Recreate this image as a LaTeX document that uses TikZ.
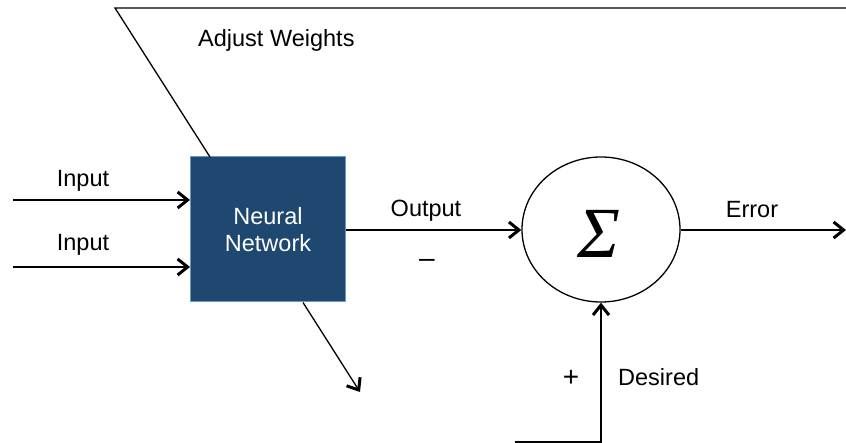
\documentclass[tikz,border=0pt]{standalone}
\usepackage{fontspec}
\setmainfont{Liberation Sans}
\newfontfamily\sumfont{Liberation Serif}
\usetikzlibrary{arrows.meta,shapes.geometric}
\definecolor{nnblue}{RGB}{30,72,112}
\definecolor{nnedge}{RGB}{110,150,200}
\tikzset{
  lbl/.style={font=\fontsize{23.5}{27}\selectfont, inner sep=0pt},
  sgn/.style={font=\fontsize{28}{28}\selectfont, inner sep=0pt},
  conn/.style={line width=1.3pt, -{Straight Barb[length=10pt,width=16pt,line width=3pt]}},
  plain/.style={line width=1.3pt},
}
\begin{document}
\begin{tikzpicture}[x=1pt, y=-1pt]
  \useasboundingbox (0,0) rectangle (846,443);
  % blocks
  \node[draw=nnedge, line width=1pt, fill=nnblue, text=white, align=center,
        minimum width=155, minimum height=145, lbl] (nn) at (268,229.5) {Neural\\Network};
  \node[draw, ellipse, line width=1.3pt, minimum width=158, minimum height=145] (sum) at (601,229.5) {};
  \node[font=\sumfont\itshape\fontsize{72}{72}\selectfont, inner sep=0pt] (sig) at (599,234) {Σ};
  % free ends
  \coordinate (in1) at (13,200);
  \coordinate (in2) at (13,267);
  \coordinate (err) at (846,230);
  \coordinate (des) at (515,442);
  \coordinate (fb) at (115,8);
  \coordinate (fbr) at (846,8);
  \coordinate (upd) at (360,392);
  % connectors
  \draw[conn] (in1) -- (in1 -| nn.west);
  \draw[conn] (in2) -- (in2 -| nn.west);
  \draw[conn] (nn.east |- 0,230) -- (sum.west |- 0,230);
  \draw[conn] (sum.east |- 0,230) -- (err);
  \draw[conn] (des) -- (des -| sum.south) -- (sum.south);
  \draw[plain] (fbr) -- (fb) -- (210,157);
  \draw[conn] (303,302.5) -- (upd);
  % labels
  \node[lbl, anchor=base] (lin1) at (83,187) {Input};
  \node[lbl, anchor=base] (lin2) at (83,251) {Input};
  \node[lbl, anchor=base] (lout) at (426,217) {Output};
  \node[sgn, anchor=center] (lminus) at (427,263) {\textendash};
  \node[lbl, anchor=base] (lerr) at (752,218) {Error};
  \node[sgn, anchor=center] (lplus) at (571,378) {+};
  \node[lbl, anchor=base west] (ldes) at (618,386) {Desired};
  \node[lbl, anchor=base west] (ladj) at (198,47) {Adjust Weights};
\end{tikzpicture}
\end{document}
